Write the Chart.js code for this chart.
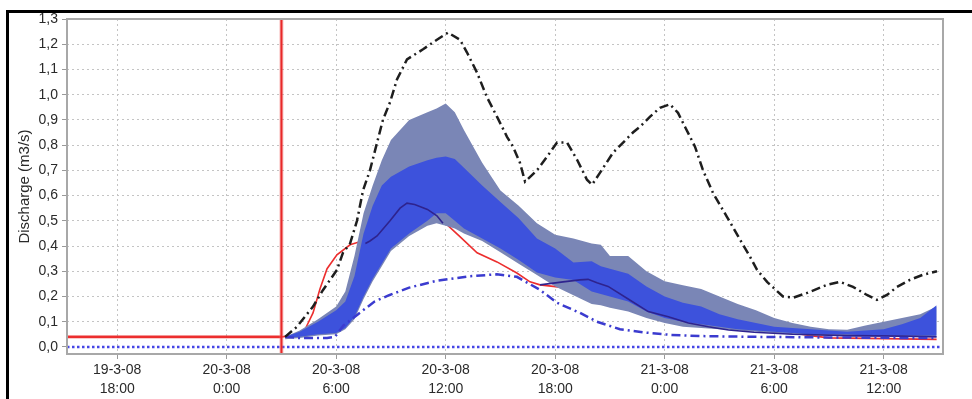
<!DOCTYPE html>
<html>
<head>
<meta charset="utf-8">
<script src="https://cdn.jsdelivr.net/npm/chart.js@4/dist/chart.umd.min.js"></script>
<style>
  html, body { margin: 0; padding: 0; background: #ffffff; }
  #wrap { position: relative; width: 972px; height: 399px; }
</style>
</head>
<body>
<div id="wrap"><canvas id="c" width="972" height="399"></canvas></div>
<script>
// ---- axis / tick data (hours counted from 19-3-08 0:00) ----
const X_MIN = 15.25;
const X_MAX = 63.25;
const Y_MIN = -0.028;
const Y_MAX = 1.3;
const FORECAST_START = 27.0;           // 20-3-08 3:00
const TICK_HOURS = [18, 24, 30, 36, 42, 48, 54, 60];
const TICK_DATES = ['19-3-08', '20-3-08', '20-3-08', '20-3-08', '20-3-08', '21-3-08', '21-3-08', '21-3-08'];
const TICK_TIMES = ['18:00', '0:00', '6:00', '12:00', '18:00', '0:00', '6:00', '12:00'];
const Y_TICKS = [0, 0.1, 0.2, 0.3, 0.4, 0.5, 0.6, 0.7, 0.8, 0.9, 1.0, 1.1, 1.2, 1.3];

// ---- ensemble bands ----
const BAND_HOURS  = [27.2, 28, 29, 30, 30.5, 31, 31.5, 32, 32.5, 33, 34, 35, 35.5, 36, 36.5, 37, 38, 39, 40, 41, 42, 43, 44, 44.5, 45, 46, 47, 48, 49, 50, 51, 52, 53, 54, 55, 56, 57, 58, 59, 60, 61, 62, 62.9];
const OUTER_UPPER = [0.04, 0.065, 0.11, 0.16, 0.22, 0.36, 0.53, 0.64, 0.74, 0.82, 0.9, 0.93, 0.945, 0.965, 0.93, 0.86, 0.73, 0.62, 0.56, 0.49, 0.445, 0.43, 0.41, 0.405, 0.36, 0.36, 0.3, 0.26, 0.245, 0.23, 0.2, 0.17, 0.145, 0.115, 0.095, 0.08, 0.07, 0.068, 0.085, 0.1, 0.115, 0.13, 0.16];
const OUTER_LOWER = [0.03, 0.035, 0.045, 0.05, 0.07, 0.11, 0.19, 0.26, 0.32, 0.38, 0.44, 0.48, 0.49, 0.48, 0.47, 0.45, 0.42, 0.375, 0.33, 0.285, 0.24, 0.205, 0.17, 0.165, 0.155, 0.14, 0.115, 0.095, 0.08, 0.075, 0.07, 0.065, 0.06, 0.055, 0.05, 0.045, 0.045, 0.04, 0.04, 0.04, 0.04, 0.04, 0.04];
const INNER_UPPER = [0.04, 0.06, 0.1, 0.145, 0.18, 0.28, 0.45, 0.56, 0.64, 0.675, 0.715, 0.74, 0.75, 0.755, 0.745, 0.71, 0.64, 0.575, 0.51, 0.43, 0.39, 0.335, 0.34, 0.32, 0.31, 0.29, 0.24, 0.2, 0.175, 0.16, 0.13, 0.11, 0.095, 0.08, 0.075, 0.07, 0.065, 0.06, 0.065, 0.07, 0.09, 0.115, 0.165];
const INNER_LOWER = [0.035, 0.04, 0.05, 0.055, 0.075, 0.12, 0.2, 0.27, 0.33, 0.39, 0.45, 0.5, 0.53, 0.53, 0.5, 0.47, 0.43, 0.39, 0.345, 0.295, 0.275, 0.265, 0.22, 0.21, 0.2, 0.18, 0.14, 0.115, 0.1, 0.09, 0.08, 0.07, 0.065, 0.06, 0.055, 0.05, 0.05, 0.05, 0.045, 0.045, 0.045, 0.045, 0.045];

// ---- red line (observed / simulated) ----
const RED_HOURS  = [15.25, 27.0, 27.63, 28.3, 28.73, 29.11, 29.5, 30.04, 30.76, 31.2, 31.69, 32.24, 33.0, 33.88, 34.8, 35.85, 36.78, 37.72, 38.81, 39.9, 40.62, 41.17, 42.5, 44, 45.5, 47, 49, 51, 53, 55, 56, 57, 60, 62.9];
const RED_VALUES = [0.04, 0.04, 0.045, 0.07, 0.135, 0.23, 0.31, 0.365, 0.405, 0.415, 0.41, 0.425, 0.48, 0.55, 0.54, 0.5, 0.437, 0.373, 0.337, 0.293, 0.258, 0.246, 0.235, 0.2, 0.17, 0.13, 0.095, 0.08, 0.068, 0.056, 0.045, 0.036, 0.033, 0.03];

// ---- ensemble median (navy) ----
const MEDIAN_HOURS  = [31.6, 31.85, 32.24, 32.95, 33.5, 33.88, 34.3, 35.0, 35.52, 35.85, 38.5, 41.17, 42.43, 43.36, 43.8, 44.29, 44.9, 46.0, 47.1, 48.2, 49.3, 50.4, 51.5, 52.9, 55, 58, 61, 62.9];
const MEDIAN_VALUES = [0.41, 0.42, 0.44, 0.5, 0.55, 0.57, 0.565, 0.545, 0.52, 0.49, null, 0.246, 0.258, 0.266, 0.268, 0.254, 0.24, 0.19, 0.14, 0.12, 0.095, 0.08, 0.067, 0.058, 0.05, 0.045, 0.043, 0.04];

// ---- ensemble minimum (blue dash-dot) ----
const MIN_HOURS  = [27.2, 28, 29.5, 29.93, 30.4, 31.2, 32.1, 32.9, 34, 35.5, 37.3, 38.8, 39.9, 41.17, 42.1, 43.36, 44.29, 45.55, 46.8, 48.3, 50, 53, 56, 62.9];
const MIN_VALUES = [0.04, 0.035, 0.035, 0.04, 0.085, 0.13, 0.18, 0.205, 0.235, 0.262, 0.28, 0.288, 0.278, 0.226, 0.175, 0.135, 0.1, 0.07, 0.058, 0.048, 0.043, 0.04, 0.038, 0.035];

// ---- ensemble maximum (black dash-dot) ----
const MAX_HOURS  = [27.2, 27.85, 28.73, 29.28, 30.04, 30.37, 30.76, 31.14, 31.47, 31.85, 32.24, 32.56, 32.95, 33.33, 33.88, 34.76, 35.52, 36.13, 36.78, 37.17, 37.72, 38.26, 38.81, 39.36, 39.69, 40.07, 40.35, 41.0, 41.55, 42.1, 42.65, 43.2, 43.74, 44.02, 44.45, 45.17, 45.72, 46.26, 46.65, 47.2, 47.74, 48.29, 48.73, 49.11, 49.66, 50.1, 50.65, 51.03, 51.41, 52.13, 52.68, 53.06, 53.61, 54.48, 55.03, 55.8, 56.89, 57.61, 58.32, 59.08, 59.63, 60.18, 60.73, 61.44, 62.15, 62.92];
const MAX_VALUES = [0.04, 0.08, 0.16, 0.226, 0.305, 0.373, 0.41, 0.5, 0.62, 0.7, 0.81, 0.9, 0.97, 1.06, 1.14, 1.18, 1.218, 1.246, 1.218, 1.167, 1.087, 0.99, 0.913, 0.833, 0.794, 0.73, 0.655, 0.70, 0.754, 0.81, 0.81, 0.742, 0.663, 0.643, 0.69, 0.77, 0.81, 0.85, 0.873, 0.913, 0.948, 0.962, 0.928, 0.873, 0.794, 0.70, 0.61, 0.563, 0.516, 0.425, 0.357, 0.306, 0.258, 0.2, 0.195, 0.214, 0.246, 0.258, 0.238, 0.206, 0.187, 0.206, 0.238, 0.266, 0.286, 0.30];

// ---- zero reference line ----
const ZERO_HOURS  = [X_MIN, X_MAX];
const ZERO_VALUES = [0, 0];

const pts = (xs, ys) => xs.map((x, i) => ({ x: x, y: ys[i] }));

const framePlugin = {
  id: 'frame',
  beforeDraw(chart) {
    const ctx = chart.ctx;
    ctx.save();
    ctx.fillStyle = '#ffffff';
    ctx.fillRect(0, 0, chart.width, chart.height);
    ctx.fillStyle = '#000000';
    ctx.fillRect(6, 10, 3, chart.height - 10);
    ctx.fillRect(6, 10, chart.width - 6, 3);
    ctx.restore();
  },
  afterDatasetsDraw(chart) {
    const { ctx, chartArea, scales } = chart;
    const x = scales.x.getPixelForValue(FORECAST_START);
    ctx.save();
    ctx.beginPath();
    ctx.moveTo(x, chartArea.top);
    ctx.lineTo(x, chartArea.bottom);
    ctx.strokeStyle = 'rgba(240,110,110,0.45)';
    ctx.lineWidth = 4;
    ctx.stroke();
    ctx.beginPath();
    ctx.moveTo(x, chartArea.top);
    ctx.lineTo(x, chartArea.bottom);
    ctx.strokeStyle = '#e82828';
    ctx.lineWidth = 2;
    ctx.stroke();
    ctx.restore();
  },
  afterDraw(chart) {
    const { ctx, chartArea } = chart;
    ctx.save();
    ctx.strokeStyle = '#a8a8a8';
    ctx.lineWidth = 2;
    ctx.strokeRect(chartArea.left, chartArea.top, chartArea.right - chartArea.left, chartArea.bottom - chartArea.top);
    ctx.restore();
  }
};

const FONT = { family: "'Liberation Sans', Arial, sans-serif", size: 14 };

new Chart(document.getElementById('c'), {
  type: 'line',
  data: {
    datasets: [
      { label: 'outer lower', data: pts(BAND_HOURS, OUTER_LOWER), borderWidth: 0, pointRadius: 0, fill: false, order: 7 },
      { label: 'outer band', data: pts(BAND_HOURS, OUTER_UPPER), borderWidth: 0, pointRadius: 0, fill: '-1', backgroundColor: '#7a86b6', order: 6 },
      { label: 'inner lower', data: pts(BAND_HOURS, INNER_LOWER), borderWidth: 0, pointRadius: 0, fill: false, order: 5 },
      { label: 'inner band', data: pts(BAND_HOURS, INNER_UPPER), borderWidth: 0, pointRadius: 0, fill: '-1', backgroundColor: '#3d52dc', order: 4 },
      { label: 'red', data: pts(RED_HOURS, RED_VALUES), borderColor: '#ec2e2e', borderWidth: 1.6, pointRadius: 0, fill: false, order: 8,
        segment: { borderWidth: c => (c.p1.parsed.x <= FORECAST_START ? 2.6 : 1.6) } },
      { label: 'median', data: pts(MEDIAN_HOURS, MEDIAN_VALUES), borderColor: '#2e238e', borderWidth: 1.6, pointRadius: 0, fill: false, spanGaps: false, order: 3 },
      { label: 'min', data: pts(MIN_HOURS, MIN_VALUES), borderColor: '#3b3bcf', borderWidth: 2.5, borderDash: [9, 4, 2, 4], pointRadius: 0, fill: false, order: 2 },
      { label: 'max', data: pts(MAX_HOURS, MAX_VALUES), borderColor: '#1e1e1e', borderWidth: 2.5, borderDash: [9, 4, 2, 4], pointRadius: 0, fill: false, order: 1 },
      { label: 'zero', data: pts(ZERO_HOURS, ZERO_VALUES), borderColor: '#4545e6', borderWidth: 2.5, borderDash: [2.5, 2.5], pointRadius: 0, fill: false, order: 9 }
    ]
  },
  options: {
    responsive: false,
    animation: false,
    layout: { padding: { left: 0, top: 19, right: 29, bottom: 0 } },
    plugins: { legend: { display: false }, tooltip: { enabled: false } },
    elements: { line: { tension: 0 } },
    scales: {
      x: {
        type: 'linear',
        min: X_MIN,
        max: X_MAX,
        afterBuildTicks(scale) { scale.ticks = TICK_HOURS.map(v => ({ value: v })); },
        afterFit(scale) { scale.height = 45; },
        ticks: {
          autoSkip: false, maxRotation: 0, minRotation: 0, padding: 2,
          color: '#2a2a2a', font: Object.assign({ lineHeight: 1.35 }, FONT),
          callback(v) { const k = TICK_HOURS.indexOf(v); return k < 0 ? '' : [TICK_DATES[k], TICK_TIMES[k]]; }
        },
        grid: { color: '#c4c4c4', lineWidth: 1, tickLength: 5, tickColor: '#999999', tickBorderDash: [] },
        border: { display: false, dash: [2, 3] }
      },
      y: {
        type: 'linear',
        min: Y_MIN,
        max: Y_MAX,
        afterBuildTicks(scale) { scale.ticks = Y_TICKS.map(v => ({ value: v })); },
        afterFit(scale) { scale.width = 67; },
        ticks: {
          padding: 4, color: '#2a2a2a', font: FONT,
          callback(v) { return v.toFixed(1).replace('.', ','); }
        },
        grid: { color: '#c4c4c4', lineWidth: 1, tickLength: 5, tickColor: '#999999', tickBorderDash: [] },
        border: { display: false, dash: [2, 3] },
        title: { display: true, text: 'Discharge (m3/s)', color: '#2a2a2a', font: { family: FONT.family, size: 15 }, padding: { top: 16, bottom: 0 } }
      }
    }
  },
  plugins: [framePlugin]
});
</script>
</body>
</html>
